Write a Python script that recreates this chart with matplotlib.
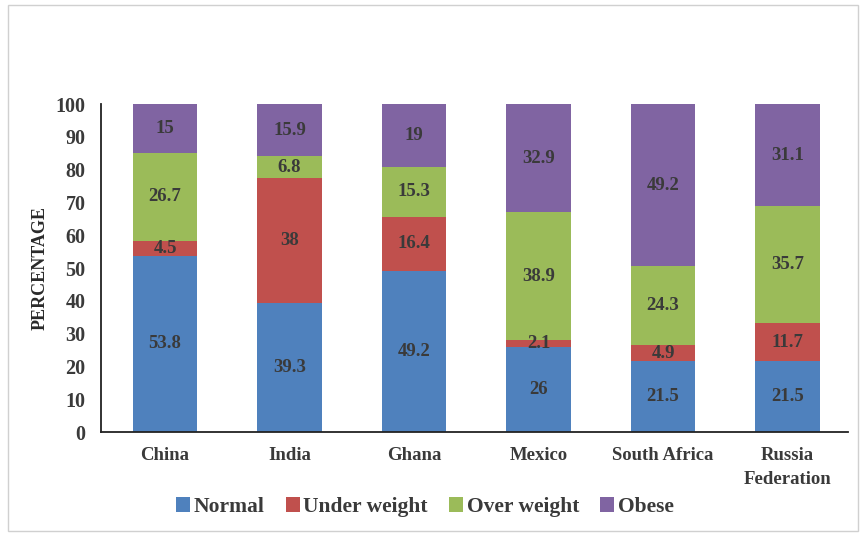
import matplotlib
matplotlib.use("Agg")
import matplotlib.pyplot as plt
from matplotlib.patches import Rectangle
import numpy as np

# ── data ──────────────────────────────────────────────────────────────────────
countries = ["China", "India", "Ghana", "Mexico", "South Africa", "Russia\nFederation"]
normal      = [53.8, 39.3, 49.2, 26.0, 21.5, 21.5]
under       = [4.5, 38.0, 16.4, 2.1, 4.9, 11.7]
over        = [26.7, 6.8, 15.3, 38.9, 24.3, 35.7]
obese       = [15.0, 15.9, 19.0, 32.9, 49.2, 31.1]
under_lbl   = ["4.5", "38", "16.4", "2.1", "4.9", "11.7"]
normal_lbl  = ["53.8", "39.3", "49.2", "26", "21.5", "21.5"]
over_lbl    = ["26.7", "6.8", "15.3", "38.9", "24.3", "35.7"]
obese_lbl   = ["15", "15.9", "19", "32.9", "49.2", "31.1"]
series_names = ["Normal", "Under weight", "Over weight", "Obese"]
yticks = [0, 10, 20, 30, 40, 50, 60, 70, 80, 90, 100]

colors = ["#4F81BD", "#C0504D", "#9BBB59", "#8064A2"]
txt_col = "#3a3a3a"
plt.rcParams["font.family"] = ["Liberation Serif", "DejaVu Serif"]

fig = plt.figure(figsize=(8.61, 5.37), dpi=100)
ax = fig.add_axes([101 / 861, 1 - 432 / 537, (848 - 101) / 861, (432 - 104) / 537])

x = np.arange(len(countries))
bottom = np.zeros(len(countries))
all_vals = [normal, under, over, obese]
all_lbls = [normal_lbl, under_lbl, over_lbl, obese_lbl]
for vals, lbls, col, name in zip(all_vals, all_lbls, colors, series_names):
    bars = ax.bar(x + 0.015, vals, 0.52, bottom=bottom, color=col, label=name)
    for b, lab in zip(bars, lbls):
        ax.text(b.get_x() + b.get_width() / 2, b.get_y() + b.get_height() / 2, lab,
                ha="center", va="center", fontsize=13.5, fontweight="bold", color=txt_col)
    bottom += np.array(vals)

ax.set_xlim(-0.5, len(countries) - 0.5)
ax.set_ylim(0, 100)
ax.set_yticks(yticks)
ax.set_xticks(x + 0.015)
ax.set_xticklabels(countries, fontsize=13.5, fontweight="bold", color=txt_col, linespacing=1.5)
ax.tick_params(axis="both", length=0, pad=11)
ax.tick_params(axis="y", labelsize=14.5, labelcolor=txt_col, pad=11)
for t in ax.get_yticklabels():
    t.set_fontweight("bold")
for s in ["top", "right"]:
    ax.spines[s].set_visible(False)
ax.spines["left"].set_color("#222222")
ax.spines["bottom"].set_color("#222222")
ax.spines["left"].set_linewidth(1.3)
ax.spines["bottom"].set_linewidth(1.3)

fig.text(40 / 861, 1 - 268 / 537, "PERCENTAGE", rotation=90, ha="center", va="center",
         fontsize=13, fontweight="bold", color="#2a2a2a")

fig.legend(loc="center", bbox_to_anchor=(425 / 861, 1 - 507 / 537), ncol=4,
           frameon=False, handlelength=0.65, handleheight=0.65, handletextpad=0.15,
           columnspacing=1.0, prop={"size": 15.5, "weight": "bold"},
           labelcolor=txt_col)

# light border round the chart area
fig.patches.append(Rectangle((8 / 861, 6 / 537), 850 / 861, 526 / 537, transform=fig.transFigure,
                             fill=False, edgecolor="#d0d0d0", linewidth=1.0))

fig.savefig("out.png", dpi=100)
